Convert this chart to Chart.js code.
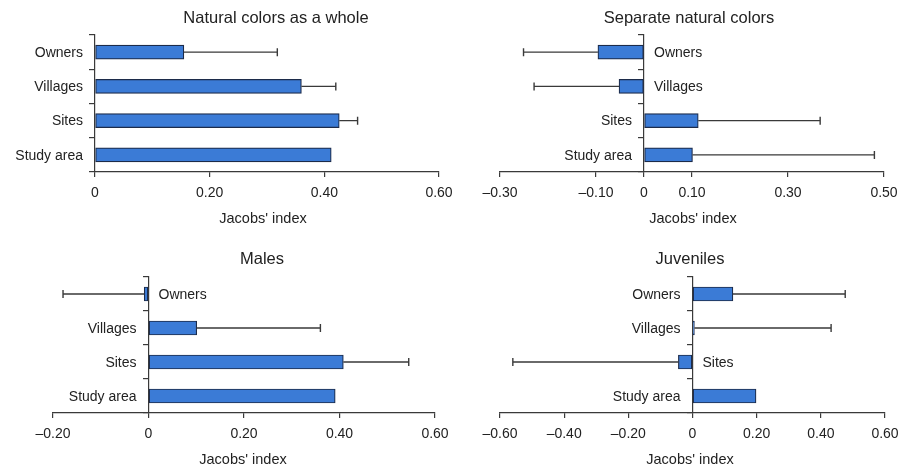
<!DOCTYPE html>
<html>
<head>
<meta charset="utf-8">
<script src="https://cdn.jsdelivr.net/npm/chart.js@4.4.1/dist/chart.umd.min.js"></script>
<style>
  html, body { margin: 0; padding: 0; background: #fff; }
  body { width: 914px; height: 469px; position: relative; overflow: hidden; }
  .panel { position: absolute; width: 457px; height: 234px; }
  .panel canvas { display: block; }
</style>
</head>
<body>
<div class="panel" style="left:0;top:0"><canvas id="c1" width="457" height="234"></canvas></div>
<div class="panel" style="left:457px;top:0"><canvas id="c2" width="457" height="234"></canvas></div>
<div class="panel" style="left:0;top:235px"><canvas id="c3" width="457" height="234"></canvas></div>
<div class="panel" style="left:457px;top:235px"><canvas id="c4" width="457" height="234"></canvas></div>
<script>
// ---- Data ----
const categories = ['Owners', 'Villages', 'Sites', 'Study area'];

const titles = ['Natural colors as a whole', 'Separate natural colors', 'Males', 'Juveniles'];
const axisTitle = "Jacobs' index";

// bar values (Jacobs' index)
const naturalWhole = [0.155, 0.360, 0.426, 0.412];
const separateNatural = [-0.096, -0.052, 0.113, 0.101];
const males = [-0.009, 0.101, 0.408, 0.391];
const juveniles = [0.126, 0.006, -0.044, 0.198];

// whisker end values (null = no error bar)
const naturalWholeErr = [0.318, 0.420, 0.458, null];
const separateNaturalErr = [-0.251, -0.229, 0.367, 0.480];
const malesErr = [-0.179, 0.360, 0.545, null];
const juvenilesErr = [0.476, 0.432, -0.560, null];

// tick values
const ticks1 = [0, 0.2, 0.4, 0.6];
const ticks2 = [-0.3, -0.1, 0, 0.1, 0.3, 0.5];
const ticks3 = [-0.2, 0, 0.2, 0.4, 0.6];
const ticks4 = [-0.6, -0.4, -0.2, 0, 0.2, 0.4, 0.6];

// ---- Styling ----
const FONT = "'Liberation Sans', Arial, Helvetica, sans-serif";
const TEXT = '#222222';
const AXIS = '#3a3a3a';
const BAR = '#3b7bd6';
const BAR_EDGE = '#1c2b4a';

function fmt(v) {
  if (Math.abs(v) < 1e-9) return '0';
  return (v < 0 ? '\u2013' : '') + Math.abs(v).toFixed(2);
}

const overlay = {
  id: 'overlay',
  afterDatasetsDraw(chart, args, opts) {
    const ctx = chart.ctx;
    const xs = chart.scales.x, ys = chart.scales.y;
    const vals = chart.data.datasets[0].data;
    const errs = opts.err;
    ctx.save();
    // error bars
    ctx.strokeStyle = '#3a3a3a';
    ctx.lineWidth = 1.4;
    errs.forEach((e, i) => {
      if (e === null || e === undefined) return;
      const x0 = xs.getPixelForValue(vals[i]);
      const x1 = xs.getPixelForValue(e);
      const y = ys.getPixelForValue(i);
      ctx.beginPath();
      ctx.moveTo(x0, y); ctx.lineTo(x1, y);
      ctx.moveTo(x1, y - 4); ctx.lineTo(x1, y + 4);
      ctx.stroke();
    });
    // category labels on the side opposite the bar
    const zx = xs.getPixelForValue(0);
    ctx.fillStyle = TEXT;
    ctx.font = '14px ' + FONT;
    ctx.textBaseline = 'middle';
    chart.data.labels.forEach((lab, i) => {
      const y = ys.getPixelForValue(i);
      if (vals[i] < 0) { ctx.textAlign = 'left'; ctx.fillText(lab, zx + 10, y + 1); }
      else { ctx.textAlign = 'right'; ctx.fillText(lab, zx - 12, y + 1); }
    });
    // x tick labels, positioned by the x scale
    ctx.textAlign = 'center';
    ctx.font = '14px ' + FONT;
    const ty = chart.chartArea.bottom + 21;
    opts.tickVals.forEach(v => {
      ctx.fillText(fmt(v), xs.getPixelForValue(v), ty);
    });
    // title and axis title
    ctx.font = '16.5px ' + FONT;
    ctx.fillText(opts.title, opts.titleX, opts.titleY);
    ctx.font = '14.5px ' + FONT;
    ctx.fillText(axisTitle, opts.axX, opts.axY);
    ctx.restore();
  }
};

function makeChart(id, values, err, tickVals, pad, title, titleX, titleY, axX, axY) {
  const ctx = document.getElementById(id);
  return new Chart(ctx, {
    type: 'bar',
    data: {
      labels: categories,
      datasets: [{
        data: values,
        backgroundColor: BAR,
        borderColor: BAR_EDGE,
        borderWidth: 1.2,
        borderSkipped: false,
        barThickness: 14
      }]
    },
    options: {
      indexAxis: 'y',
      responsive: false,
      animation: false,
      events: [],
      layout: { padding: pad },
      plugins: {
        legend: { display: false },
        tooltip: { enabled: false },
        title: { display: false },
        overlay: { err: err, tickVals: tickVals, title: title, titleX: titleX, titleY: titleY, axX: axX, axY: axY }
      },
      scales: {
        x: {
          type: 'linear',
          position: 'bottom',
          min: tickVals[0],
          max: tickVals[tickVals.length - 1],
          afterBuildTicks: (s) => { s.ticks = tickVals.map(v => ({ value: v })); },
          afterFit: (s) => { s.height = 0; },
          grid: { display: true, drawOnChartArea: false, drawTicks: true, tickLength: 5, color: AXIS, lineWidth: 1.2 },
          border: { display: true, color: AXIS, width: 1.2 },
          ticks: { display: false }
        },
        y: {
          type: 'category',
          position: { x: 0 },
          grid: { display: true, offset: true, drawOnChartArea: false, drawTicks: true, tickLength: 5, color: AXIS, lineWidth: 1.2 },
          border: { display: true, color: AXIS, width: 1.2 },
          ticks: { display: false }
        }
      }
    },
    plugins: [overlay]
  });
}

// panel chart areas (canvas coords) set via padding
makeChart('c1', naturalWhole, naturalWholeErr, ticks1,
  { left: 95, right: 18, top: 35, bottom: 62 }, titles[0], 276, 18, 263, 219);
makeChart('c2', separateNatural, separateNaturalErr, ticks2,
  { left: 43, right: 30, top: 35, bottom: 62 }, titles[1], 232, 18, 236, 219);
makeChart('c3', males, malesErr, ticks3,
  { left: 53, right: 22, top: 42, bottom: 56 }, titles[2], 262, 24, 243, 225);
makeChart('c4', juveniles, juvenilesErr, ticks4,
  { left: 43, right: 29, top: 42, bottom: 56 }, titles[3], 233, 24, 233, 225);
</script>
</body>
</html>
